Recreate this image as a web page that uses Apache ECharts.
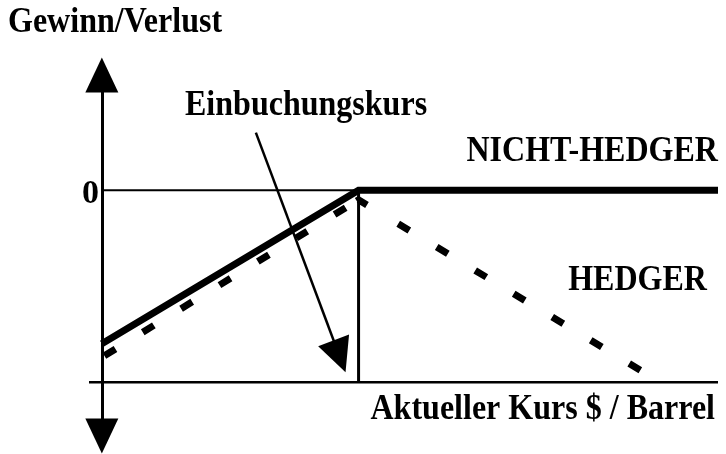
<!DOCTYPE html>
<html>
<head>
<meta charset="utf-8">
<script src="https://cdn.jsdelivr.net/npm/echarts@6/dist/echarts.min.js"></script>
<style>
  html, body { margin: 0; padding: 0; background: #fff; }
  #chart { width: 726px; height: 454px; }
</style>
</head>
<body>
<div id="chart"></div>
<script>
// Daten: Kurs (x) gegen Gewinn/Verlust (y)
const nichtHedger = [[0, -8], [5, 0], [12, 0]];
const hedger = [[0, -8.7], [5, -0.5], [10.5, -9.4]];
const nullLinie = [[0, 0], [12, 0]];
const kursAchse = [[-0.25, -10], [12, -10]];
const einbuchungskurs = [[5, 0], [5, -10]];
const pfeil = [[3, 3], [4.63, -8.65]];

const FONT = 'bold 35px "Liberation Serif", "DejaVu Serif", serif';

// Strichmuster der Hedger-Linie (wie im Original: Ecke mit eigenem Strich)
const DASH = [0, 3,
    13, 32, 13, 32, 13, 32, 13, 32, 13, 32, 13, 32, 13, 13,
    12, 36.5,
    13, 32, 13, 32, 13, 32, 13, 32, 13, 32, 13, 32, 13, 40];

const chart = echarts.init(document.getElementById('chart'));

function linie(name, data, style) {
    return {
        name: name,
        type: 'line',
        data: data,
        showSymbol: false,
        symbol: 'none',
        silent: true,
        lineStyle: Object.assign({ color: '#000', join: 'miter', cap: 'butt' }, style),
        z: 2
    };
}

function text(str, x, y, align) {
    return {
        type: 'text', x: x, y: y, scaleX: 0.915, silent: true,
        style: { text: str, font: FONT, fill: '#000', align: align, verticalAlign: 'top' }
    };
}

chart.setOption({
    animation: false,
    backgroundColor: '#fff',
    grid: { left: 89, right: 8, top: 75, bottom: 18 },
    xAxis: {
        type: 'value', min: -0.25, max: 12, show: false
    },
    yAxis: {
        type: 'value', min: -12.8, max: 6,
        axisLine: {
            show: true, onZero: true,
            symbol: ['triangle', 'triangle'],
            symbolSize: [33, 35],
            lineStyle: { color: '#000', width: 3 }
        },
        axisTick: { show: false },
        splitLine: { show: false },
        axisLabel: {
            show: true,
            customValues: [0],
            margin: -10,
            formatter: v => '{z|' + v + '}',
            rich: {
                z: {
                    padding: [9, 0, 0, 0],
                    color: '#000',
                    fontSize: 34,
                    fontWeight: 'bold',
                    fontFamily: '"Liberation Serif", serif'
                }
            }
        }
    },
    series: [
        linie('Null', nullLinie, { width: 2 }),
        linie('Aktueller Kurs', kursAchse, { width: 2.5 }),
        linie('Einbuchungskurs', einbuchungskurs, { width: 3 }),
        linie('HEDGER', hedger, { width: 7, type: DASH }),
        linie('NICHT-HEDGER', nichtHedger, { width: 7 }),
        {
            type: 'line',
            data: [],
            silent: true,
            markLine: {
                silent: true,
                symbol: ['none', 'triangle'],
                symbolSize: [33, 34],
                label: { show: false },
                lineStyle: { color: '#000', width: 2.5, type: 'solid' },
                data: [[{ coord: pfeil[0] }, { coord: pfeil[1] }]]
            }
        }
    ],
    graphic: [
        text('Gewinn/Verlust', 8, 5, 'left'),
        text('Einbuchungskurs', 185, 88, 'left'),
        text('NICHT-HEDGER', 718, 134, 'right'),
        text('HEDGER', 707, 263, 'right'),
        text('Aktueller Kurs $ / Barrel', 715, 392, 'right')
    ]
});
</script>
</body>
</html>
